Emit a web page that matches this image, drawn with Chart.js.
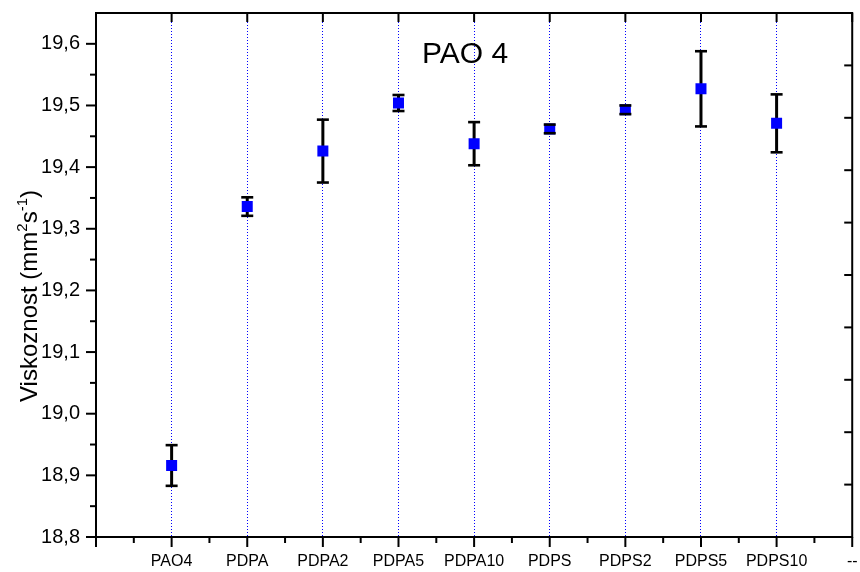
<!DOCTYPE html>
<html>
<head>
<meta charset="utf-8">
<script src="https://cdn.jsdelivr.net/npm/chart.js@4"></script>
<style>
  html, body { margin: 0; padding: 0; background: #fff; }
  #wrap { width: 860px; height: 572px; }
</style>
</head>
<body>
<div id="wrap"><canvas id="chart" width="860" height="572"></canvas></div>
<script>
// values
const xLabels = ['', 'PAO4', 'PDPA', 'PDPA2', 'PDPA5', 'PDPA10', 'PDPS', 'PDPS2', 'PDPS5', 'PDPS10', '--'];
const categories = ['PAO4', 'PDPA', 'PDPA2', 'PDPA5', 'PDPA10', 'PDPS', 'PDPS2', 'PDPS5', 'PDPS10'];
const viscosity = [18.916, 19.336, 19.426, 19.504, 19.438, 19.462, 19.493, 19.527, 19.471];
const viscosityErr = [0.033, 0.015, 0.051, 0.013, 0.035, 0.007, 0.007, 0.061, 0.047];
const yTicks = [18.8, 18.9, 19.0, 19.1, 19.2, 19.3, 19.4, 19.5, 19.6];
const yMin = 18.8;
const yMax = 19.65;

const FONT = '"Liberation Sans", Arial, sans-serif';
const MARKER = 11;

const points = categories.map((c, i) => ({ x: xLabels.indexOf(c), y: viscosity[i] }));

function fmt(v) {
    return v.toFixed(1).replace('.', ',');
}

// error bars: stems under the markers, caps on top
const errorBars = {
    id: 'errorBars',
    beforeDatasetsDraw(chart) {
        const { ctx, scales: { x, y } } = chart;
        ctx.save();
        ctx.strokeStyle = '#000';
        ctx.lineWidth = 3;
        points.forEach((p, i) => {
            const px = x.getPixelForValue(p.x);
            const top = y.getPixelForValue(p.y + viscosityErr[i]);
            const bot = y.getPixelForValue(p.y - viscosityErr[i]);
            ctx.beginPath();
            ctx.moveTo(px, top);
            ctx.lineTo(px, bot);
            ctx.stroke();
        });
        ctx.restore();
    },
    afterDatasetsDraw(chart) {
        const { ctx, scales: { x, y } } = chart;
        ctx.save();
        ctx.strokeStyle = '#000';
        ctx.lineWidth = 2.6;
        points.forEach((p, i) => {
            const px = x.getPixelForValue(p.x);
            [p.y + viscosityErr[i], p.y - viscosityErr[i]].forEach(v => {
                const py = y.getPixelForValue(v);
                ctx.beginPath();
                ctx.moveTo(px - 6, py);
                ctx.lineTo(px + 6, py);
                ctx.stroke();
            });
        });
        ctx.restore();
    }
};

// Origin-style frame with ticks on all sides, plot title and axis title
const frame = {
    id: 'frame',
    afterDraw(chart) {
        const { ctx, chartArea: a, scales: { x, y } } = chart;
        ctx.save();
        ctx.strokeStyle = '#000';
        ctx.lineWidth = 2;
        ctx.strokeRect(a.left, a.top, a.right - a.left, a.bottom - a.top);

        const line = (x1, y1, x2, y2) => {
            ctx.beginPath();
            ctx.moveTo(x1, y1);
            ctx.lineTo(x2, y2);
            ctx.stroke();
        };

        // bottom: major + minor outward, top: major inward
        for (let i = 0; i <= 10; i++) {
            const px = x.getPixelForValue(i);
            line(px, a.bottom, px, a.bottom + 10);
            line(px, a.top, px, a.top + 9);
            if (i < 10) {
                const mx = x.getPixelForValue(i + 0.5);
                line(mx, a.bottom, mx, a.bottom + 6);
            }
        }
        // left: major + minor outward
        yTicks.forEach((v, i) => {
            const py = y.getPixelForValue(v);
            line(a.left - 10, py, a.left, py);
            if (i < yTicks.length - 1) {
                const my = y.getPixelForValue(v + 0.05);
                line(a.left - 6, my, a.left, my);
            }
        });
        // right: ten equal divisions, inward
        for (let k = 1; k < 10; k++) {
            const py = y.getPixelForValue(yMin + k * (yMax - yMin) / 10);
            line(a.right - 8, py, a.right, py);
        }

        // plot title
        ctx.fillStyle = '#000';
        ctx.font = '30px ' + FONT;
        ctx.textAlign = 'left';
        ctx.textBaseline = 'alphabetic';
        ctx.fillText('PAO 4', a.left + 326, a.top + 50);

        // y title with superscripts
        const parts = [
            { t: 'Viskoznost (mm', sup: false },
            { t: '2', sup: true },
            { t: 's', sup: false },
            { t: '-1', sup: true },
            { t: ')', sup: false }
        ];
        const big = '24px ' + FONT;
        const small = '15px ' + FONT;
        let total = 0;
        parts.forEach(p => {
            ctx.font = p.sup ? small : big;
            p.w = ctx.measureText(p.t).width;
            total += p.w;
        });
        ctx.translate(37, 296);
        ctx.rotate(-Math.PI / 2);
        let cx = -total / 2;
        parts.forEach(p => {
            ctx.font = p.sup ? small : big;
            ctx.fillText(p.t, cx, p.sup ? -10 : 0);
            cx += p.w;
        });
        ctx.restore();
    }
};

new Chart(document.getElementById('chart'), {
    type: 'scatter',
    data: {
        datasets: [{
            label: 'Viskoznost',
            data: points,
            pointStyle: 'rect',
            pointRadius: MARKER / 2 / Math.SQRT1_2,
            pointHoverRadius: MARKER / 2 / Math.SQRT1_2,
            backgroundColor: '#0000ff',
            borderColor: '#0000ff',
            borderWidth: 0,
            showLine: false
        }]
    },
    options: {
        responsive: false,
        animation: false,
        layout: { padding: { left: 0, top: 13, right: 7, bottom: 0 } },
        plugins: {
            legend: { display: false },
            tooltip: { enabled: false }
        },
        scales: {
            x: {
                type: 'linear',
                min: 0,
                max: 10,
                afterBuildTicks: scale => {
                    scale.ticks = xLabels.map((_, i) => ({ value: i }));
                },
                afterFit: scale => {
                    scale.height = 35;
                    scale.paddingLeft = 0;
                    scale.paddingRight = 0;
                },
                border: { display: false, dash: [1, 2] },
                grid: {
                    drawTicks: false,
                    lineWidth: 1,
                    color: c => (c.tick && c.tick.value > 0 && c.tick.value < 10) ? '#0000ff' : 'rgba(0,0,0,0)'
                },
                ticks: {
                    autoSkip: false,
                    maxRotation: 0,
                    padding: 15,
                    color: '#000',
                    font: { family: FONT, size: 16 },
                    callback: v => xLabels[v]
                }
            },
            y: {
                min: yMin,
                max: yMax,
                afterBuildTicks: scale => {
                    scale.ticks = yTicks.map(v => ({ value: v }));
                },
                afterFit: scale => {
                    scale.width = 96;
                    scale.paddingTop = 0;
                    scale.paddingBottom = 0;
                },
                border: { display: false },
                grid: { display: false, drawTicks: false },
                ticks: {
                    padding: 16,
                    color: '#000',
                    font: { family: FONT, size: 20 },
                    callback: v => fmt(v)
                }
            }
        }
    },
    plugins: [errorBars, frame]
});
</script>
</body>
</html>
